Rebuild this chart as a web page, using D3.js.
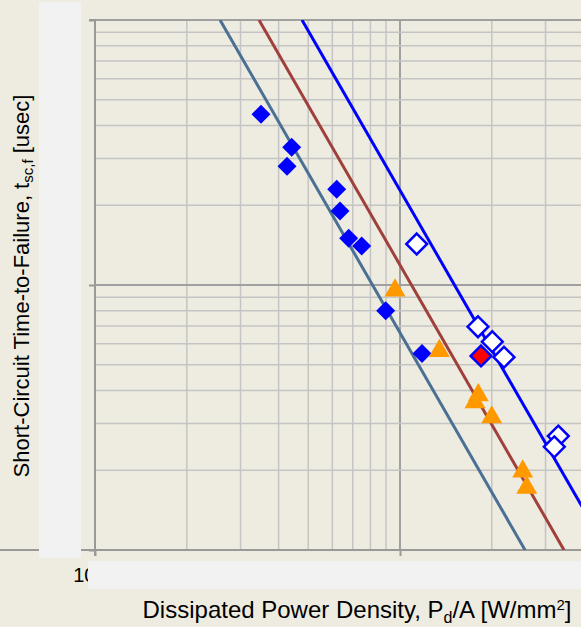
<!DOCTYPE html>
<html>
<head>
<meta charset="utf-8">
<script src="https://cdn.jsdelivr.net/npm/d3@7"></script>
<style>
  body { margin: 0; background: #EEECE1; }
  svg { display: block; font-family: Arial, "Liberation Sans", sans-serif; }
</style>
</head>
<body>
<div id="chart"></div>
<script>
// power density [W/mm2] and time-to-failure [usec]
const filledPd = [3502, 4415, 4262, 6201, 6358, 6788, 7488, 8977, 11805];
const filledT = [44.1, 33.1, 28.05, 22.97, 19.02, 15.01, 14.03, 8.0, 5.52];

const triPd = [9630, 13454, 18062, 17620, 19987, 25256, 26030];
const triT = [9.54, 5.64, 3.84, 3.61, 3.17, 1.98, 1.72];

const openPd = [11343, 18020, 20076, 21928, 33036, 32056];
const openT = [14.28, 6.96, 6.11, 5.34, 2.69, 2.45];

const redPd = [18435];
const redT = [5.40];

// fit lines, end points [Pd, t]
const fitLines = [
  { color: '#4A7094', pts: [[2570, 100], [25700, 1]] },
  { color: '#A0403C', pts: [[3449, 100], [34490, 1]] },
  { color: '#0000FF', pts: [[4772, 100], [47720, 1]] },
];

const xTickValues = [1000, 10000];
const yTickValues = [1, 10, 100];

const width = 581;
const height = 627;

const x = d3.scaleLog().domain([1000, 100000]).range([95, 705]);
const y = d3.scaleLog().domain([1, 100]).range([550, 20]);

const svg = d3
  .select('#chart')
  .append('svg')
  .attr('width', width)
  .attr('height', height);

svg.append('rect').attr('width', width).attr('height', height).attr('fill', '#EEECE1');

svg
  .append('clipPath')
  .attr('id', 'plot')
  .append('rect')
  .attr('x', 95)
  .attr('y', 20)
  .attr('width', 610)
  .attr('height', 530);

const isMajor = (v) => Math.abs(Math.log10(v) - Math.round(Math.log10(v))) < 1e-6;

// gridlines
const grid = svg.append('g');
grid
  .selectAll('line.gx')
  .data(x.ticks())
  .join('line')
  .attr('x1', (d) => x(d))
  .attr('x2', (d) => x(d))
  .attr('y1', 20)
  .attr('y2', 550)
  .attr('stroke', (d) => (isMajor(d) ? '#A0A0A0' : '#C4C4C4'))
  .attr('stroke-width', (d) => (isMajor(d) ? 2 : 1.5));
grid
  .selectAll('line.gy')
  .data(y.ticks())
  .join('line')
  .attr('x1', 95)
  .attr('x2', width)
  .attr('y1', (d) => y(d))
  .attr('y2', (d) => y(d))
  .attr('stroke', (d) => (isMajor(d) ? '#A0A0A0' : '#C4C4C4'))
  .attr('stroke-width', (d) => (isMajor(d) ? 2 : 1.5));

// axes
const yAxis = svg
  .append('g')
  .attr('transform', 'translate(95,0)')
  .call(d3.axisLeft(y).tickValues(yTickValues).tickSize(6).tickPadding(16).tickFormat(d3.format('d')));
const xAxis = svg
  .append('g')
  .attr('transform', 'translate(0,550)')
  .call(d3.axisBottom(x).tickValues(xTickValues).tickSize(6).tickPadding(12).tickFormat(d3.format('d')));
[yAxis, xAxis].forEach((a) => {
  a.select('.domain').attr('stroke', '#999').attr('stroke-width', 2);
  a.selectAll('.tick line').attr('stroke', '#999').attr('stroke-width', 2);
  a.selectAll('.tick text').attr('font-size', 20).attr('fill', '#000');
});
yAxis.select('.domain').attr('d', 'M-6,20H0V556');
xAxis.select('.domain').attr('d', 'M-6,0H' + width);

// fit lines
const line = d3
  .line()
  .x((d) => x(d[0]))
  .y((d) => y(d[1]));
svg
  .append('g')
  .attr('clip-path', 'url(#plot)')
  .selectAll('path')
  .data(fitLines)
  .join('path')
  .attr('d', (d) => line(d.pts))
  .attr('fill', 'none')
  .attr('stroke', (d) => d.color)
  .attr('stroke-width', 3);

const diamond = (r) => `M0,${-r}L${r},0L0,${r}L${-r},0Z`;
const zip = (a, b) => a.map((v, i) => [v, b[i]]);

const marks = svg.append('g');
marks
  .selectAll('path.filled')
  .data(zip(filledPd, filledT))
  .join('path')
  .attr('transform', (d) => `translate(${x(d[0])},${y(d[1])})`)
  .attr('d', diamond(9.5))
  .attr('fill', '#0000FF');

marks
  .selectAll('path.tri')
  .data(zip(triPd, triT))
  .join('path')
  .attr('transform', (d) => `translate(${x(d[0])},${y(d[1])})`)
  .attr('d', d3.symbol(d3.symbolTriangle, 190))
  .attr('fill', '#FF9900');

marks
  .selectAll('path.red')
  .data(zip(redPd, redT))
  .join('path')
  .attr('transform', (d) => `translate(${x(d[0])},${y(d[1])})`)
  .attr('d', diamond(10.4))
  .attr('fill', '#FF0000')
  .attr('stroke', '#0000FF')
  .attr('stroke-width', 2.5);

marks
  .selectAll('path.open')
  .data(zip(openPd, openT))
  .join('path')
  .attr('transform', (d) => `translate(${x(d[0])},${y(d[1])})`)
  .attr('d', diamond(10.4))
  .attr('fill', '#FFFFFF')
  .attr('stroke', '#0000FF')
  .attr('stroke-width', 2.5);

// cover panels
svg.append('rect').attr('x', 39).attr('y', 2).attr('width', 42).attr('height', 556).attr('fill', '#F2F2F2');
svg.append('rect').attr('x', 88).attr('y', 561).attr('width', width - 88).attr('height', 28).attr('fill', '#F2F2F2');

// axis titles
const yTitle = svg
  .append('text')
  .attr('transform', 'translate(29,286) rotate(-90)')
  .attr('text-anchor', 'middle')
  .attr('font-size', 22);
yTitle.append('tspan').text('Short-Circuit Time-to-Failure, t');
yTitle.append('tspan').attr('font-size', 15).attr('dy', 4).text('sc,f');
yTitle.append('tspan').attr('dy', -4).text(' [usec]');

const xTitle = svg
  .append('text')
  .attr('x', 357)
  .attr('y', 618)
  .attr('text-anchor', 'middle')
  .attr('font-size', 24);
xTitle.append('tspan').text('Dissipated Power Density, P');
xTitle.append('tspan').attr('font-size', 16).attr('dy', 5).text('d');
xTitle.append('tspan').attr('dy', -5).text('/A [W/mm');
xTitle.append('tspan').attr('font-size', 15).attr('dy', -8).text('2');
xTitle.append('tspan').attr('dy', 8).text(']');
</script>
</body>
</html>
